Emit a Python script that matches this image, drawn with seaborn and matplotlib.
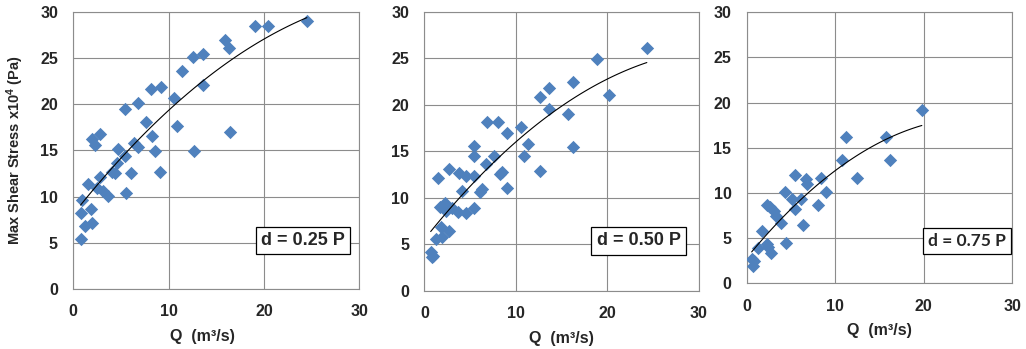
import numpy as np
import pandas as pd
import matplotlib
matplotlib.use("Agg")
import matplotlib.pyplot as plt
import seaborn as sns

# Panel d = 0.25 P
q_025 = [0.77, 0.88, 0.77, 1.23, 1.93, 1.86, 1.58, 1.93, 2.28, 2.8, 2.46, 2.8, 3.16, 3.68,
         4.04, 4.39, 4.56, 4.67, 5.44, 5.5, 6.07, 5.44, 6.84, 6.32, 6.84, 7.6, 8.25, 8.53,
         9.12, 8.18, 9.2, 10.6, 10.9, 11.4, 12.7, 12.6, 13.6, 13.6, 15.9, 16.3, 16.4, 19.05,
         20.4, 24.5]
tau_025 = [5.4, 9.6, 8.2, 6.8, 7.1, 8.7, 11.4, 16.2, 15.6, 16.8, 10.9, 12.1, 10.6, 10.1,
           12.7, 12.5, 13.6, 15.2, 14.4, 10.4, 12.6, 19.5, 20.1, 15.8, 15.4, 18.1, 16.5, 14.9,
           12.7, 21.6, 21.8, 20.7, 17.6, 23.6, 14.9, 25.1, 25.4, 22.1, 26.9, 26.1, 17.0, 28.4,
           28.5, 29.0]

# Panel d = 0.50 P
q_050 = [0.69, 0.8, 0.9, 1.52, 1.27, 1.88, 1.77, 2.71, 1.7, 2.24, 2.35, 2.71, 2.97, 3.69,
         3.8, 4.16, 4.59, 4.59, 5.39, 5.39, 5.39, 5.39, 6.04, 6.33, 6.76, 6.84, 7.56, 8.03,
         8.21, 8.5, 9.0, 9.0, 10.56, 10.92, 11.28, 12.62, 12.62, 13.56, 13.56, 15.7, 16.24,
         16.24, 18.9, 20.2, 24.3]
tau_050 = [4.2, 3.7, 3.75, 12.1, 5.6, 5.8, 6.9, 6.4, 9.0, 9.4, 8.6, 13.1, 8.9, 8.5,
           12.7, 10.7, 12.3, 8.4, 8.9, 12.3, 14.5, 15.6, 10.6, 11.0, 13.6, 18.1, 14.5, 18.1,
           12.6, 12.75, 17.0, 11.1, 17.6, 14.5, 15.8, 12.9, 20.8, 19.5, 21.8, 19.0, 22.5,
           15.5, 24.9, 21.0, 26.1]

# Panel d = 0.75 P
q_075 = [0.75, 0.56, 0.86, 1.23, 1.68, 2.24, 2.36, 2.73, 2.24, 2.62, 3.1, 3.36, 3.85, 4.3,
         4.49, 5.12, 5.42, 5.42, 6.17, 6.36, 6.73, 6.84, 8.04, 8.41, 8.97, 10.73, 11.21,
         12.52, 15.7, 16.15, 19.8]
tau_075 = [1.9, 2.7, 2.5, 3.9, 5.8, 4.3, 4.0, 3.4, 8.7, 8.5, 8.0, 7.4, 6.7, 10.1,
           4.5, 9.35, 8.2, 12.0, 9.3, 6.5, 11.5, 11.0, 8.7, 11.6, 10.1, 13.6, 16.2,
           11.6, 16.2, 13.6, 19.2]

labels = ["d = 0.25 P", "d = 0.50 P", "d = 0.75 P"]
ticks = [0, 5, 10, 15, 20, 25, 30]
xticks = [0, 10, 20, 30]

sns.set_style("white")
plt.rcParams['font.family'] = ['Liberation Sans', 'DejaVu Sans']
plt.rcParams['mathtext.default'] = 'regular'

fig = plt.figure(figsize=(10.26, 3.49), dpi=100)
axes = [fig.add_axes([0.0714, 0.1719, 0.2788, 0.7946]),
        fig.add_axes([0.4136, 0.1662, 0.2677, 0.8003]),
        fig.add_axes([0.7278, 0.1883, 0.2586, 0.7765])]

datasets = [(q_025, tau_025), (q_050, tau_050), (q_075, tau_075)]
box_pos = [(0.803, 0.175), (0.781, 0.180), (0.830, 0.157)]
box_font = [('Liberation Sans', 13), ('Liberation Sans', 13), ('Lato', 12.5)]
grid_col = '#8c8c8c'

for i, (ax, (q, tau)) in enumerate(zip(axes, datasets)):
    df = pd.DataFrame({'Q': q, 'tau': tau})
    sns.scatterplot(data=df, x='Q', y='tau', marker='D', s=46, color='#4f81bd',
                    linewidth=0, ax=ax, zorder=3)

    # 2nd order polynomial trendline (as in the spreadsheet)
    coef = np.polyfit(df['Q'], df['tau'], 2)
    xs = np.linspace(df['Q'].min(), df['Q'].max(), 100)
    ax.plot(xs, np.polyval(coef, xs), color='black', lw=0.8, zorder=4)

    ax.set_xlim(0, 30)
    ax.set_ylim(0, 30)
    ax.set_xticks(xticks)
    ax.set_yticks(ticks)
    ax.grid(True, color=grid_col, lw=0.8)
    ax.set_axisbelow(True)
    for sp in ax.spines.values():
        sp.set_color(grid_col)
        sp.set_linewidth(0.8)
    ax.tick_params(length=0, labelsize=11.5, pad=11)
    for t in ax.get_xticklabels() + ax.get_yticklabels():
        t.set_fontweight('bold')

    ax.set_xlabel('Q  (m³/s)', fontsize=11.5, fontweight='bold', labelpad=7,
                  x=0.45 if i == 0 else 0.5)
    ax.set_ylabel('')

    fam, fs = box_font[i]
    ax.text(box_pos[i][0], box_pos[i][1], labels[i], transform=ax.transAxes,
            ha='center', va='center', fontsize=fs, fontweight='bold', family=fam,
            bbox=dict(boxstyle='square,pad=0.3', fc='white', ec='black', lw=0.9),
            zorder=5)

axes[0].set_ylabel('Max Shear Stress x10$^{4}$ (Pa)', fontsize=10.5, fontweight='bold',
                   labelpad=10)

fig.savefig('out.png', dpi=100)
